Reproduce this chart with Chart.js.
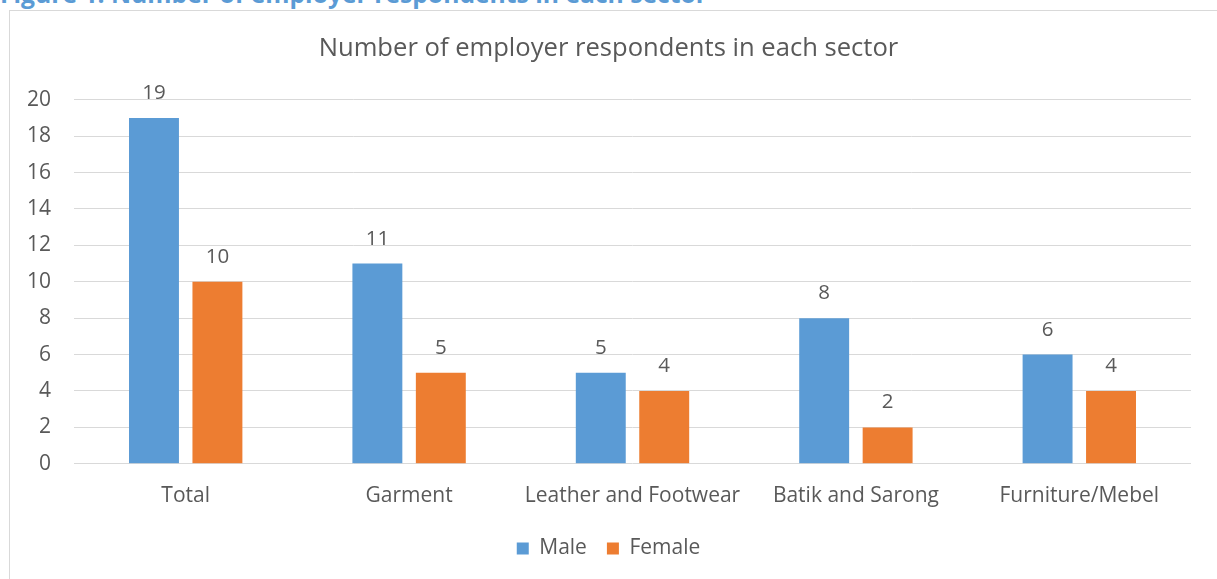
<!DOCTYPE html>
<html>
<head>
<meta charset="utf-8">
<title>Employer respondents by sector</title>
<script src="https://cdn.jsdelivr.net/npm/chart.js@4.4.1/dist/chart.umd.min.js"></script>
<style>
    body { margin: 0; background: #fff; overflow: hidden; font-family: "Open Sans", sans-serif; }
    #caption { position: absolute; left: 0; top: -23px; font-size: 24.7px; font-weight: bold; color: #5b9bd5; white-space: nowrap; }
    #frame { position: absolute; left: 9px; top: 10px; width: 1220px; height: 600px; border: 1px solid #d9d9d9; }
    #wrap { position: absolute; left: 0; top: 0; width: 1230px; height: 579px; }
</style>
</head>
<body>
<div id="caption">Figure 1: Number of employer respondents in each sector</div>
<div id="frame"></div>
<div id="wrap"><canvas id="sector-chart"></canvas></div>
<script>
const $ = document.querySelector.bind(document)
const ctx = $("#sector-chart")

const sectors = ["Total", "Garment", "Leather and Footwear", "Batik and Sarong", "Furniture/Mebel"]
const male = [19, 11, 5, 8, 6]
const female = [10, 5, 4, 2, 4]

const textColor = "#595959"
Chart.defaults.font.family = "'Open Sans', sans-serif"
Chart.defaults.color = textColor

// value above every bar, taken from the bar element itself
const barValues = {
    id: "barValues",
    afterDatasetsDraw(chart) {
        const c = chart.ctx
        c.save()
        c.font = "20.5px 'Open Sans'"
        c.fillStyle = textColor
        c.textAlign = "center"
        c.textBaseline = "alphabetic"
        chart.data.datasets.forEach((ds, i) => {
            chart.getDatasetMeta(i).data.forEach((bar, j) => {
                c.fillText(ds.data[j], bar.x, bar.y - 19)
            })
        })
        c.restore()
    }
}

new Chart(ctx, {
    type: "bar",
    data: {
        labels: sectors,
        datasets: [{
            label: "Male",
            data: male,
            backgroundColor: "#5b9bd5",
        }, {
            label: "Female",
            data: female,
            backgroundColor: "#ed7d31",
        }]
    },
    options: {
        responsive: true,
        maintainAspectRatio: false,
        animation: false,
        categoryPercentage: 0.568,
        barPercentage: 0.787,
        layout: {
            padding: { top: 0, left: 26, right: 39, bottom: 10 }
        },
        scales: {
            x: {
                grid: { display: false, drawTicks: false },
                border: { display: false },
                ticks: { padding: 20, font: { size: 21 } },
                afterFit: (scale) => { scale.height -= 11 }
            },
            y: {
                min: 0,
                max: 20,
                grid: { color: "#d9d9d9", drawTicks: false },
                border: { display: false },
                ticks: { stepSize: 2, padding: 23, font: { size: 21 } },
                // just wide enough for "20" plus its padding
                afterFit: (scale) => { scale.width = 48 }
            }
        },
        plugins: {
            title: {
                display: true,
                text: "Number of employer respondents in each sector",
                font: { size: 25.6, weight: "normal" },
                color: textColor,
                padding: { top: 33, bottom: 36 }
            },
            legend: {
                position: "bottom",
                labels: { boxWidth: 12, boxHeight: 12, padding: 20, font: { size: 21 } }
            },
            tooltip: { enabled: false }
        }
    },
    plugins: [barValues]
})
</script>
</body>
</html>
